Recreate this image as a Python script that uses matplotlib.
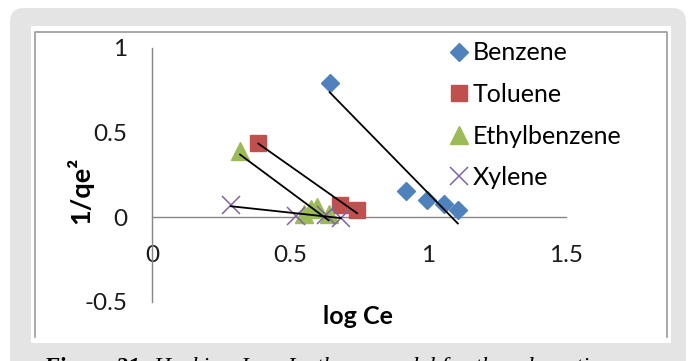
import numpy as np
import matplotlib
matplotlib.use("Agg")
import matplotlib.pyplot as plt
from matplotlib.patches import FancyBboxPatch, Rectangle
from matplotlib.lines import Line2D

plt.rcParams['font.family'] = ['Lato', 'DejaVu Sans']

# Harkins-Jura plot: 1/qe^2 against log Ce
benzene_x = [0.644, 0.922, 0.995, 1.057, 1.108]
benzene_y = [0.794, 0.155, 0.104, 0.080, 0.044]
toluene_x = [0.385, 0.682, 0.743]
toluene_y = [0.440, 0.070, 0.045]
ethyl_x = [0.319, 0.549, 0.575, 0.598, 0.640]
ethyl_y = [0.390, 0.020, 0.050, 0.060, 0.020]
xylene_x = [0.286, 0.520, 0.630, 0.685]
xylene_y = [0.070, 0.010, 0.015, -0.005]

names = ["Benzene", "Toluene", "Ethylbenzene", "Xylene"]
xticks = [0, 0.5, 1, 1.5]
xticklabels = ["0", "0.5", "1", "1.5"]
yticks = [-0.5, 0, 0.5, 1]
yticklabels = ["-0.5", "0", "0.5", "1"]

series = [(benzene_x, benzene_y), (toluene_x, toluene_y),
          (ethyl_x, ethyl_y), (xylene_x, xylene_y)]
styles = [dict(marker="D", ms=9.5, color="#4F81BD"),
          dict(marker="s", ms=11.5, color="#C0504D"),
          dict(marker="^", ms=12.5, color="#9BBB59"),
          dict(marker="x", ms=13, mew=1.1, color="#8064A2")]

W, H = 688, 361
fig = plt.figure(figsize=(W / 100, H / 100), dpi=100)

# page background, white card and the chart border
bg = fig.add_axes([0, 0, 1, 1], zorder=-1)
bg.set_xlim(0, W)
bg.set_ylim(H, 0)
bg.axis("off")
bg.add_patch(FancyBboxPatch((10, 8), 676, 380, boxstyle="round,pad=0,rounding_size=14",
                            fc="#E4E4E4", ec="none"))
bg.add_patch(Rectangle((31, 26), 640, 317, fc="white", ec="none"))
bg.plot([35, 35, 667, 667], [337, 32, 32, 337], color="#9A9A9A", lw=1.2)

t1 = bg.text(43, 357, "Figure 21:", family="Liberation Serif", style="italic",
             weight="bold", fontsize=17, va="top", ha="left")
bg.annotate(" Harkins-Jura Isotherm model for the adsorption", xy=(1, 0), xycoords=t1,
            family="Liberation Serif", style="italic", fontsize=17, va="bottom", ha="left")

ax = fig.add_axes([152 / W, 1 - 302 / H, (566 - 152) / W, (302 - 48) / H])
ax.set_facecolor("none")
ax.set_xlim(0, 1.5)
ax.set_ylim(-0.5, 1)

for (x, y), st in zip(series, styles):
    ax.plot(x, y, ls="none", zorder=3, **st)

# linear trendlines
for x, y in series:
    k, b = np.polyfit(x, y, 1)
    xs = np.array([min(x), max(x)])
    ax.plot(xs, k * xs + b, color="black", lw=1.3, zorder=4)

for s in ["top", "right"]:
    ax.spines[s].set_visible(False)
ax.spines["bottom"].set_position(("data", 0))
for s in ["left", "bottom"]:
    ax.spines[s].set_color("#868686")
    ax.spines[s].set_linewidth(1.0)

ax.set_xticks(xticks)
ax.set_xticklabels(xticklabels)
ax.set_yticks(yticks)
ax.set_yticklabels(yticklabels)
ax.tick_params(axis="x", length=0, pad=20, labelsize=17.5, colors="#1a1a1a")
ax.tick_params(axis="y", length=0, pad=18, labelsize=17.5, colors="#1a1a1a")

fig.text(358 / W, 1 - 317 / H, "log Ce", ha="center", va="center",
         fontsize=18, weight="bold")
fig.text(80 / W, 1 - 190 / H, "1/qe²", ha="center", va="center",
         fontsize=19.5, weight="bold", rotation=90)

handles = [Line2D([], [], ls="none", **st) for st in styles]
ax.legend(handles, names, loc="upper left", bbox_to_anchor=(435 / W, 1 - 29 / H),
          bbox_transform=fig.transFigure, frameon=False, fontsize=18,
          handlelength=0.9, handletextpad=0.1, labelspacing=0.74, borderpad=0)

fig.savefig("out.png", dpi=100)
